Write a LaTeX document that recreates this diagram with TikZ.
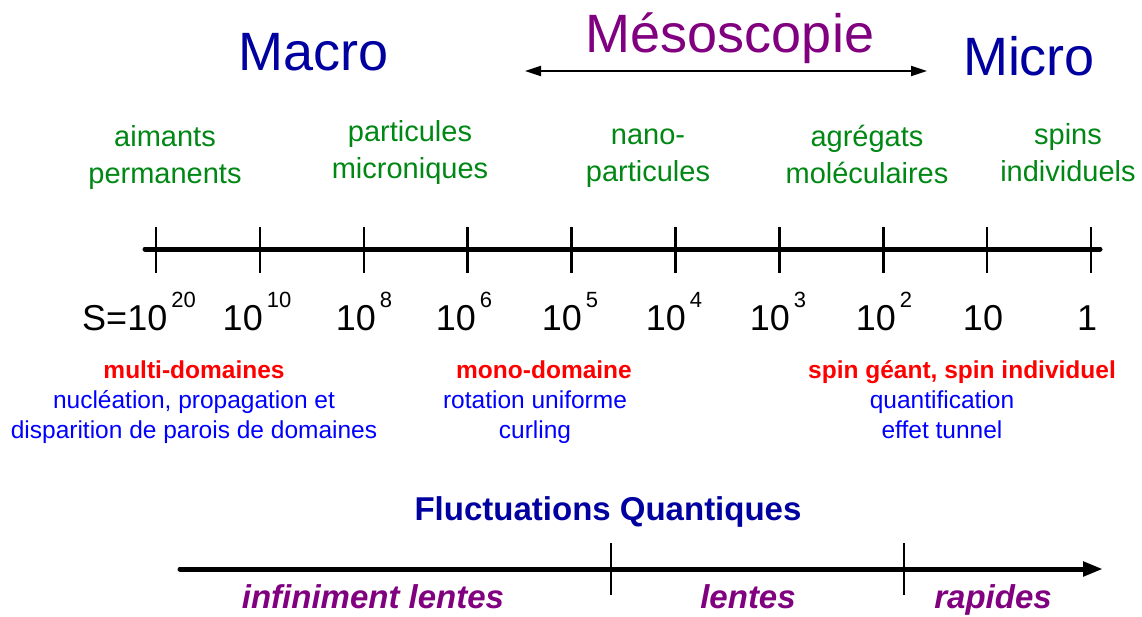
\documentclass[tikz,border=0pt]{standalone}
\usepackage{fontspec}
\setmainfont{Liberation Sans}
\usetikzlibrary{arrows.meta,positioning}

\definecolor{marine}{RGB}{0,0,160}
\definecolor{mauve}{RGB}{128,0,128}
\definecolor{vert}{RGB}{0,135,20}
\definecolor{rouge}{RGB}{255,0,0}
\definecolor{bleu}{RGB}{0,0,255}

\newcommand\expo[1]{\kern4pt\raisebox{23pt}{\fontsize{22}{22}\selectfont #1}}
\newcommand\etat[1]{{\bfseries\color{rouge}#1}}

\begin{document}
\begin{tikzpicture}[x=1pt,y=-1pt,
  every node/.style={inner sep=0pt, anchor=base},
  titre/.style={font=\fontsize{54}{60}\selectfont},
  objet/.style={text=vert, align=center, font=\fontsize{29}{37}\selectfont},
  valeur/.style={font=\fontsize{36}{40}\selectfont},
  regime/.style={text=bleu, align=center, font=\fontsize{24.5}{30}\selectfont},
  vitesse/.style={text=mauve, font=\fontsize{33}{36}\selectfont\bfseries\itshape},
  axe/.style={line width=5pt, line cap=round},
  graduation/.style={line width=2.5pt}]
 \useasboundingbox (0,0) rectangle (1142,616);

 % echelles
 \node[titre, text=marine] (macro) at (314,70) {Macro};
 \node[titre, text=mauve] (meso) at (730,52) {Mésoscopie};
 \node[titre, text=marine] (micro) at (1029,75) {Micro};
 \coordinate (mesoG) at (525,71);
 \coordinate (mesoD) at (927,71);
 \draw[line width=2pt, {Triangle[length=16pt,width=10pt]}-{Triangle[length=16pt,width=10pt]}] (mesoG) -- (mesoD);

 % objets (base = derniere ligne)
 \node[objet] (aimants) at (165,183) {aimants\\permanents};
 \node[objet] (microniques) at (410,178) {particules\\microniques};
 \node[objet] (nano) at (648,181) {nano-\\particules};
 \node[objet] (agregats) at (867,183) {agrégats\\moléculaires};
 \node[objet] (spins) at (1068,181) {spins\\individuels};

 % axe des spins
 \coordinate (axeG) at (145,249);
 \coordinate (axeD) at (1100,249);
 \draw[axe] (axeG) -- (axeD);
 \foreach \i in {0,...,9} {
   \coordinate (t\i) at ({156+103.9*\i},249);
   \draw[graduation] (t\i) ++(0,-22) -- ++(0,46);
 }
 \foreach \x/\lab [count=\i] in {139/{S=10\expo{20}}, 257/{10\expo{10}}, 364/{10\expo{8}},
     464/{10\expo{6}}, 570/{10\expo{5}}, 674/{10\expo{4}}, 778/{10\expo{3}},
     884/{10\expo{2}}, 983/{10}, 1087/{1}}
   \node[valeur] (v\i) at (\x,330) {\lab};

 % regimes
 \node[regime] (multi) at (194,438) {\etat{multi-domaines}\\nucléation, propagation et\\disparition de parois de domaines};
 \node[regime] (mono) at (535,438) {\hspace*{18pt}\etat{mono-domaine}\\rotation uniforme\\curling};
 \node[regime] (geant) at (942,438) {\hspace*{40pt}\etat{spin géant, spin individuel}\\quantification\\effet tunnel};

 % fluctuations
 \node[text=marine, font=\fontsize{33}{36}\selectfont\bfseries] (fluct) at (608,520) {Fluctuations Quantiques};
 \coordinate (fqG) at (180,569);
 \coordinate (fqD) at (1103,569);
 \draw[axe, -{Triangle[length=20pt,width=14pt]}] (fqG) -- (fqD);
 \foreach \x [count=\i] in {611,904} {
   \coordinate (f\i) at (\x,569);
   \draw[line width=2pt] (f\i) ++(0,-26) -- ++(0,52);
 }
 \node[vitesse] (infini) at (373,608) {infiniment lentes};
 \node[vitesse] (lentes) at (748,608) {lentes};
 \node[vitesse] (rapides) at (993,608) {rapides};
\end{tikzpicture}
\end{document}
